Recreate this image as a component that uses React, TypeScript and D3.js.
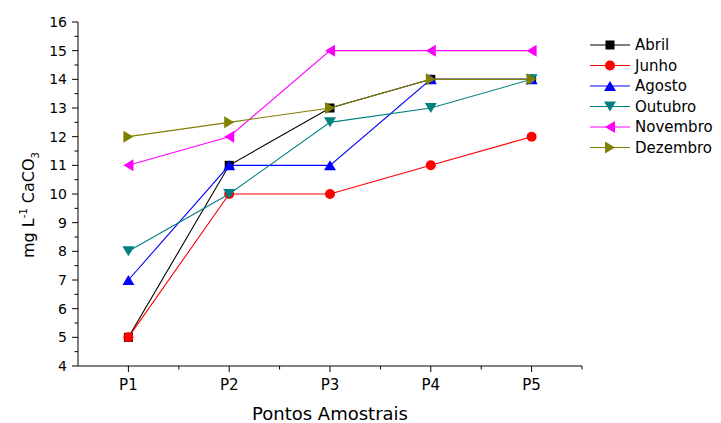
import React, { useEffect, useRef } from 'react'
import * as d3 from 'd3'

const points = ['P1', 'P2', 'P3', 'P4', 'P5']
const seriesNames = ['Abril', 'Junho', 'Agosto', 'Outubro', 'Novembro', 'Dezembro']
const abril = [5, 11, 13, 14, 14]
const junho = [5, 10, 10, 11, 12]
const agosto = [7, 11, 11, 14, 14]
const outubro = [8, 10, 12.5, 13, 14]
const novembro = [11, 12, 15, 15, 15]
const dezembro = [12, 12.5, 13, 14, 14]
const yTicks = [4, 5, 6, 7, 8, 9, 10, 11, 12, 13, 14, 15, 16]

const colors = ['#000000', '#ff0000', '#0000ff', '#008080', '#ff00ff', '#808000']
const shapes = ['square', 'circle', 'up', 'down', 'left', 'right']

function marker(g: any, shape: string, color: string, cx: number, cy: number) {
  const s = 5
  if (shape === 'square') {
    g.append('rect').attr('x', cx - 4.5).attr('y', cy - 4.5).attr('width', 9).attr('height', 9).attr('fill', color)
  } else if (shape === 'circle') {
    g.append('circle').attr('cx', cx).attr('cy', cy).attr('r', 5).attr('fill', color)
  } else {
    let pts: number[][] = []
    if (shape === 'up') pts = [[cx, cy - s], [cx + s + 1, cy + s], [cx - s - 1, cy + s]]
    if (shape === 'down') pts = [[cx, cy + s], [cx + s + 1, cy - s], [cx - s - 1, cy - s]]
    if (shape === 'left') pts = [[cx - s, cy], [cx + s, cy - s - 1], [cx + s, cy + s + 1]]
    if (shape === 'right') pts = [[cx + s, cy], [cx - s, cy - s - 1], [cx - s, cy + s + 1]]
    g.append('polygon').attr('points', pts.map(p => p.join(',')).join(' ')).attr('fill', color)
  }
}

export default function App() {
  const ref = useRef<SVGSVGElement>(null)

  useEffect(() => {
    const svg = d3.select(ref.current)
    svg.selectAll('*').remove()
    const data = [abril, junho, agosto, outubro, novembro, dezembro]

    const margin = { top: 22, left: 78 }
    const width = 504, height = 344
    const font = 'DejaVu Sans, sans-serif'

    const x = d3.scaleLinear().domain([0.5, 5.5]).range([0, width])
    const y = d3.scaleLinear().domain([4, 16]).range([height, 0])

    const g = svg.append('g').attr('transform', 'translate(' + margin.left + ',' + margin.top + ')')
      .style('font-family', font)

    // x axis
    const gX = g.append('g').attr('transform', 'translate(0,' + height + ')')
    gX.append('line').attr('x1', 0).attr('x2', width).attr('stroke', '#000')
    d3.range(1, 6).forEach(i => {
      gX.append('line').attr('x1', x(i)).attr('x2', x(i)).attr('y1', 0).attr('y2', 6).attr('stroke', '#000')
      gX.append('text').attr('x', x(i)).attr('y', 24).attr('text-anchor', 'middle').attr('font-size', 15).text(points[i - 1])
    })
    d3.range(1.5, 6, 1).forEach(v => {
      gX.append('line').attr('x1', x(v)).attr('x2', x(v)).attr('y1', 0).attr('y2', 3.5).attr('stroke', '#000')
    })

    // y axis
    const gY = g.append('g')
    gY.append('line').attr('y1', 0).attr('y2', height).attr('stroke', '#000')
    yTicks.forEach(v => {
      gY.append('line').attr('x1', -6).attr('x2', 0).attr('y1', y(v)).attr('y2', y(v)).attr('stroke', '#000')
      gY.append('text').attr('x', -11).attr('y', y(v)).attr('dy', '0.36em').attr('text-anchor', 'end').attr('font-size', 14).text(v)
    })
    d3.range(4.5, 16, 1).forEach(v => {
      gY.append('line').attr('x1', -3.5).attr('x2', 0).attr('y1', y(v)).attr('y2', y(v)).attr('stroke', '#000')
    })

    // titles
    g.append('text').attr('x', x(3)).attr('y', height + 54).attr('text-anchor', 'middle').attr('font-size', 18)
      .text('Pontos Amostrais')
    const yl = g.append('text').attr('transform', 'translate(-44,' + 183 + ') rotate(-90)')
      .attr('text-anchor', 'middle').attr('font-size', 16)
    yl.append('tspan').text('mg L')
    yl.append('tspan').attr('font-size', 10).attr('dy', -7).text('-1')
    yl.append('tspan').attr('dy', 7).text(' CaCO')
    yl.append('tspan').attr('font-size', 10).attr('dy', 5).text('3')

    const line = d3.line<number>().x((d, i) => x(i + 1)).y(d => y(d))

    data.forEach((vals, k) => {
      g.append('path').datum(vals).attr('d', line).attr('fill', 'none').attr('stroke', colors[k]).attr('stroke-width', 1.1)
      vals.forEach((v, i) => marker(g, shapes[k], colors[k], x(i + 1), y(v)))
    })

    // legend
    const lg = svg.append('g').style('font-family', font)
    seriesNames.forEach((name, k) => {
      const ly = 45 + k * 20.5
      lg.append('line').attr('x1', 590).attr('x2', 630).attr('y1', ly).attr('y2', ly).attr('stroke', colors[k]).attr('stroke-width', 1.1)
      marker(lg, shapes[k], colors[k], 610, ly)
      lg.append('text').attr('x', 635).attr('y', ly).attr('dy', '0.36em').attr('font-size', 15).text(name)
    })
  }, [])

  return <svg ref={ref} width={721} height={423} style={{ position: 'absolute', left: 0, top: 0 }}></svg>
}
